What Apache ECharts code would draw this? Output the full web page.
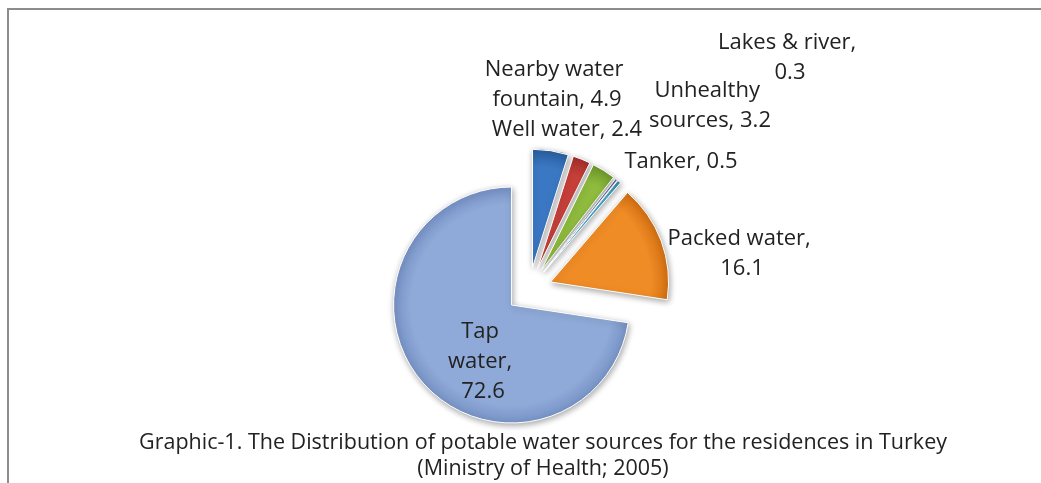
<!DOCTYPE html>
<html>
<head>
<meta charset="utf-8">
<script src="https://cdn.jsdelivr.net/npm/echarts@6/dist/echarts.min.js"></script>
<style>
    html, body { margin: 0; padding: 0; background: #fff; overflow: hidden; }
    #frame { position: absolute; left: 7px; top: 8px; width: 1100px; height: 600px;
             border-left: 2px solid #8c8c8c; border-top: 2px solid #8c8c8c; }
    #main { position: absolute; left: 0; top: 0; width: 1041px; height: 483px; }
</style>
</head>
<body>
<div id="frame"></div>
<div id="main"></div>
<script>
// 数据
var sources = ['Nearby water fountain', 'Well water', 'Unhealthy sources', 'Lakes & river', 'Tanker', 'Packed water', 'Tap water'];
var shares = [4.9, 2.4, 3.2, 0.3, 0.5, 16.1, 72.6];

// colours (excel 2007 look)
var baseColors = ['#3b78c4', '#c8403a', '#8fbc3e', '#6f7fae', '#4ba6c4', '#f08c26', '#8faad8'];
var edgeColors = ['#2b5f9f', '#a52e2a', '#6f9a2a', '#55638e', '#3a89a3', '#d26f12', '#7793c6'];

// where excel placed each label (centre of text block) and its wrap width
var labelSpots = [[557, 85], [567, 130], [710, 106], [790, 58], [681, 162], [742, 254], [483, 362]];
var labelWidths = [155, 210, 135, 170, 160, 170, 75];

window.onload = function () {
    var myChart = echarts.init(document.getElementById('main'));
    var labelFont = 'Open Sans';

    var items = [];
    var texts = [];
    for (var i = 0; i < sources.length; i++) {
        items.push({
            name: sources[i],
            value: shares[i],
            selected: true,
            itemStyle: {
                color: new echarts.graphic.RadialGradient(529, 290, 118, [
                    { offset: 0, color: baseColors[i] },
                    { offset: 0.85, color: baseColors[i] },
                    { offset: 1, color: edgeColors[i] }
                ], true)
            }
        });
        // 数据标签 (excel style "name, value")
        texts.push({
            type: 'text',
            silent: true,
            z: 100,
            style: {
                text: sources[i] + ', ' + shares[i],
                x: labelSpots[i][0],
                y: labelSpots[i][1],
                width: labelWidths[i],
                overflow: 'break',
                align: 'center',
                verticalAlign: 'middle',
                fontFamily: labelFont,
                fontSize: 22,
                lineHeight: 30,
                fill: '#222'
            }
        });
    }

    var option = {
        title: {
            text: 'Graphic-1. The Distribution of potable water sources for the residences in Turkey\n(Ministry of Health; 2005)',
            left: 538,
            top: 425,
            textAlign: 'center',
            textStyle: {
                fontFamily: labelFont,
                fontWeight: 'normal',
                fontSize: 21.5,
                lineHeight: 26,
                color: '#222'
            }
        },
        graphic: texts,
        series: [{
            type: 'pie',
            center: [529, 290],
            radius: 118,
            startAngle: 90,
            clockwise: true,
            selectedMode: 'multiple',
            selectedOffset: 23,
            animation: false,
            itemStyle: {
                borderColor: '#ffffff',
                borderWidth: 1,
                shadowBlur: 6,
                shadowColor: 'rgba(0,0,0,0.35)',
                shadowOffsetX: 1,
                shadowOffsetY: 2
            },
            label: { show: false },
            labelLine: { show: false },
            emphasis: { disabled: true },
            data: items
        }]
    };

    myChart.setOption(option);
};
</script>
</body>
</html>
